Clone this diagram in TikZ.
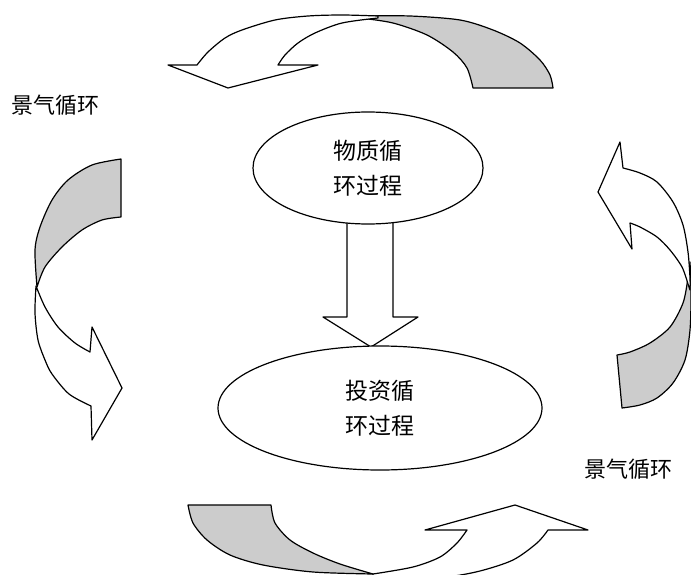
\documentclass[tikz,border=0pt]{standalone}
\usepackage{fontspec}
\newfontfamily\cjk{Noto Sans CJK SC}
\usetikzlibrary{shapes.geometric}
\definecolor{backgray}{RGB}{204,204,204}
\tikzset{
  back/.style={draw=black, fill=backgray, line width=1.2pt, line join=round},
  front/.style={draw=black, fill=white, line width=1.2pt, line join=round},
  oval/.style={ellipse, draw=black, fill=white, line width=1.2pt, inner sep=0pt,
    align=center, font=\cjk\fontsize{23}{35}\selectfont},
  lbl/.style={font=\cjk\fontsize{22}{26}\selectfont, inner sep=0pt},
}
\begin{document}
\begin{tikzpicture}[x=1pt,y=-1pt]
\fill[white] (0,0) rectangle (691,575);
\useasboundingbox (0,0) rectangle (691,575);

% ---- top curved arrow ----
\path[back] (360,16) -- plot[smooth] coordinates {(360,16) (410,16) (460,20) (493,30) (520,43) (540,60) (550,75) (553,88)}
  -- (473,88) -- plot[smooth] coordinates {(473,88) (467,68) (453,52) (427,35) (393,23) (360,18)} -- cycle;
\path[front] (378,16) -- plot[smooth] coordinates {(378,16) (342,15) (308,16) (275,20) (242,30) (225,38) (208,52) (197,65)}
  -- (168,65) -- (228,88) -- (318,65) -- (278,65)
  -- plot[smooth] coordinates {(278,65) (285,55) (298,43) (315,33) (342,23) (378,18)} -- cycle;

% ---- left curved arrow ----
\path[back] (121,159) -- (121,217) -- plot[smooth] coordinates {(121,217) (102,220) (82,230) (62,247) (45,267) (37,287)}
  -- plot[smooth] coordinates {(37,287) (35,250) (40,227) (52,200) (68,180) (92,165) (121,159)} -- cycle;
\path[front] (36,286) -- plot[smooth] coordinates {(36,286) (35,313) (38,340) (45,360) (52,374) (69,394) (91,406)}
  -- (92,440) -- (122,388) -- (92,327) -- (90,352)
  -- plot[smooth] coordinates {(90,352) (75,343) (58,327) (45,307) (36,286)} -- cycle;

% ---- right curved arrow ----
\path[back] (690,262) -- plot[smooth] coordinates {(690,262) (688,278) (683,303) (670,327) (650,343) (630,352) (617,355)}
  -- (622,408) -- plot[smooth] coordinates {(622,408) (640,405) (657,398) (673,383) (685,360) (690,330) (691,295) (690,262)} -- cycle;
\path[front] (620,142) -- (623,168)
  -- plot[smooth] coordinates {(623,168) (640,173) (657,182) (673,202) (683,225) (688,252) (690,278) (690,290)}
  -- (688,284) -- plot[smooth] coordinates {(688,284) (682,267) (670,250) (657,237) (640,227) (630,223)}
  -- (632,249) -- (598,192) -- cycle;

% ---- bottom curved arrow ----
\path[back] (188,505) -- (271,505) -- plot[smooth] coordinates {(271,505) (275,523) (290,540) (313,553) (340,564) (373,574)}
  -- plot[smooth] coordinates {(373,574) (313,572) (263,565) (230,555) (207,540) (193,523) (188,505)} -- cycle;
\path[front] (373,574) -- plot[smooth] coordinates {(373,574) (413,567) (440,557) (457,543) (467,530)}
  -- (425,530) -- (515,505) -- (588,530) -- (548,530)
  -- plot[smooth] coordinates {(548,530) (537,543) (513,560) (480,571) (447,577) (410,579) (373,576)} -- cycle;

% ---- central block arrow ----
\path[front] (347,215) -- (347,317) -- (323,317) -- (371,347) -- (418,317) -- (393,317) -- (393,215);

% ---- ellipses ----
\node[oval, minimum width=230pt, minimum height=112pt] (e1) at (368,168) {物质循\\环过程};
\node[oval, minimum width=324pt, minimum height=124pt] (e2) at (380,408) {投资循\\环过程};

% ---- labels ----
\node[lbl] (lblL) at (56,105) {景气循环};
\node[lbl] (lblR) at (628,469) {景气循环};
\end{tikzpicture}
\end{document}
